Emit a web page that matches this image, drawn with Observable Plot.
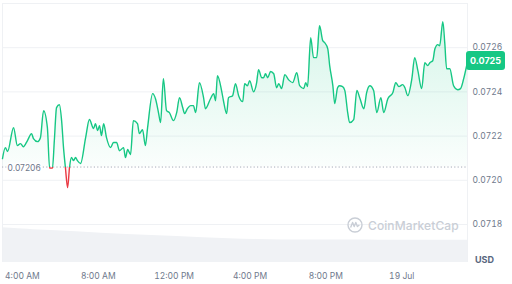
<!DOCTYPE html>
<html>
<head>
<meta charset="utf-8">
<script src="https://cdn.jsdelivr.net/npm/d3@7"></script>
<script src="https://cdn.jsdelivr.net/npm/@observablehq/plot@0.6"></script>
<style>
  html, body { margin: 0; padding: 0; background: #ffffff; }
  #wrap { position: relative; width: 512px; height: 284px; overflow: hidden; font-family: Inter, "DejaVu Sans", sans-serif; }
  #wrap svg.chart { position: absolute; left: 0; top: 0; }
  .badge { position: absolute; left: 466px; width: 39px; height: 19px; background: #16c784; color: #fff; border-radius: 3px;
           font-weight: 700; font-size: 9px; line-height: 19px; text-align: center; }
  .unit { position: absolute; left: 475px; top: 254px; font-size: 9px; font-weight: 700; color: #58667e; }
  .wm { position: absolute; left: 347px; top: 217px; display: flex; align-items: center; gap: 5px; color: #c9ced6;
        font-size: 12px; font-weight: 500; letter-spacing: 0.1px; }
</style>
</head>
<body>
<div id="wrap"></div>
<script>
// ---- data (minutes since 18 Jul 00:00 UTC, price in USD) ----
const minutes = [177,186,193,212,224,234,243,256,269,275,288,297,307,319,326,335,341,348,357,364,
  370,376,383,389,395,402,408,414,424,440,452,465,471,478,484,490,497,506,519,528,
  538,547,560,566,573,582,591,604,610,620,629,636,652,661,671,677,686,696,705,718,
  728,737,747,753,762,772,781,788,800,813,819,835,845,851,857,870,876,886,892,905,
  914,924,937,943,952,959,971,981,987,997,1003,1009,1016,1025,1035,1044,1051,1060,1070,1082,
  1095,1108,1117,1130,1136,1142,1152,1161,1171,1180,1190,1196,1206,1212,1222,1228,1237,1243,1253,1260,
  1269,1275,1288,1298,1307,1320,1329,1339,1351,1361,1374,1383,1396,1412,1421,1431,1443,1450,1459,1472,
  1481,1491,1503,1513,1522,1529,1538,1545,1554,1560,1570,1576,1582,1592,1604,1617,1626,1636,1648];
const prices = [0.072098,0.072148,0.072130,0.072238,0.072157,0.072166,0.072152,0.072180,0.072211,0.072189,
  0.072175,0.072193,0.072315,0.072238,0.072055,0.072055,0.072180,0.072329,0.072342,0.072270,
  0.072148,0.072058,0.071967,0.072058,0.072103,0.072089,0.072103,0.072089,0.072076,0.072193,
  0.072275,0.072234,0.072256,0.072225,0.072247,0.072202,0.072256,0.072193,0.072148,0.072171,
  0.072171,0.072134,0.072148,0.072103,0.072139,0.072116,0.072270,0.072256,0.072211,0.072229,
  0.072157,0.072238,0.072392,0.072369,0.072302,0.072261,0.072460,0.072315,0.072306,0.072270,
  0.072306,0.072374,0.072329,0.072302,0.072324,0.072338,0.072338,0.072306,0.072442,0.072374,
  0.072324,0.072369,0.072392,0.072360,0.072473,0.072406,0.072360,0.072302,0.072374,0.072383,
  0.072437,0.072383,0.072356,0.072437,0.072428,0.072451,0.072401,0.072442,0.072501,0.072464,
  0.072464,0.072482,0.072464,0.072492,0.072482,0.072419,0.072437,0.072415,0.072478,0.072455,
  0.072442,0.072487,0.072428,0.072415,0.072442,0.072424,0.072645,0.072555,0.072555,0.072699,
  0.072632,0.072623,0.072595,0.072519,0.072428,0.072347,0.072419,0.072428,0.072424,0.072406,
  0.072306,0.072261,0.072275,0.072406,0.072374,0.072324,0.072397,0.072428,0.072406,0.072306,
  0.072374,0.072306,0.072369,0.072397,0.072442,0.072424,0.072433,0.072419,0.072383,0.072460,
  0.072555,0.072496,0.072415,0.072532,0.072519,0.072532,0.072541,0.072595,0.072614,0.072609,
  0.072718,0.072623,0.072505,0.072505,0.072428,0.072410,0.072415,0.072460,0.072537];
const volMinutes = [177,330,490,650,810,980,1150,1350,1648];
const volumes = [35,32,29.5,27,25,23,22.5,22.5,22.5];
const openPrice = 0.07206;
const yTicks = [0.0718,0.0720,0.0722,0.0724,0.0726];
const xTickMinutes = [240,480,720,960,1200,1440];
const xTickLabels = ["4:00 AM","8:00 AM","12:00 PM","4:00 PM","8:00 PM","19 Jul"];
const currentPriceLabel = "0.0725";
const currencyLabel = "USD";
const watermarkText = "CoinMarketCap";

// ---- build ----
const t0 = Date.UTC(2024, 6, 18);
const toDate = m => new Date(t0 + m * 60000);
const series = minutes.map((m, i) => ({t: toDate(m), p: prices[i]}));
const vol = volMinutes.map((m, i) => ({t: toDate(m), v: volumes[i]}));
const yMin = 0.071628, yMax = 0.0728;
const volK = 0.0000045;
const green = "#16c784", red = "#ea3943", grid = "#eff1f4", txt = "#6f798c";
const greenArea = "#16c785", redArea = "#ea3944"; // distinct ids for post-styling

const plot = Plot.plot({
  width: 512, height: 284,
  marginLeft: 2, marginRight: 45, marginTop: 3, marginBottom: 22,
  style: {fontFamily: "Inter, sans-serif", fontSize: "8.5px", color: txt, background: "transparent", overflow: "visible"},
  x: {type: "utc", domain: [series[0].t, series[series.length - 1].t],
      ticks: xTickMinutes.map(toDate),
      tickFormat: d => xTickLabels[xTickMinutes.indexOf(Math.round((+d - t0) / 60000))],
      tickSize: 0, tickPadding: 10, label: null},
  y: {domain: [yMin, yMax], axis: "right", ticks: yTicks, tickFormat: d3.format(".4f"),
      tickSize: 0, tickPadding: 5, label: null},
  marks: [
    Plot.areaY(vol, {x: "t", y1: () => yMin, y2: d => yMin + d.v * volK, fill: "#f0f2f5", curve: "basis"}),
    Plot.ruleY(yTicks.concat([yMax]), {stroke: grid}),
    Plot.ruleX([series[0].t, series[series.length - 1].t], {stroke: grid}),
    Plot.areaY(series, {x: "t", y1: () => openPrice, y2: "p", fill: greenArea, curve: "monotone-x"}),
    Plot.areaY(series, {x: "t", y1: () => openPrice, y2: "p", fill: redArea, curve: "monotone-x"}),
    Plot.ruleY([openPrice], {stroke: "#a3abb8", strokeDasharray: "1.2,2.2"}),
    Plot.lineY(series, {x: "t", y: "p", stroke: green, strokeWidth: 1.4, curve: "monotone-x"}),
    Plot.lineY(series, {x: "t", y: "p", stroke: red, strokeWidth: 1.4, curve: "monotone-x"}),
    Plot.text([openPrice], {frameAnchor: "left", y: d => d, text: d => d3.format(".5f")(d), dx: 5, dy: 1,
      textAnchor: "start", fill: txt, stroke: "white", strokeWidth: 3})
  ]
});
plot.classList.add("chart");
const wrap = document.getElementById("wrap");
wrap.appendChild(plot);

const ys = plot.scale("y");
const yPix = v => ys.range[0] + (v - ys.domain[0]) / (ys.domain[1] - ys.domain[0]) * (ys.range[1] - ys.range[0]);
const by = yPix(openPrice);

try {
  const ns = "http://www.w3.org/2000/svg";
  const defs = document.createElementNS(ns, "defs");
  defs.innerHTML =
    `<clipPath id="clipUp"><rect x="0" y="0" width="512" height="${by}"/></clipPath>` +
    `<clipPath id="clipDown"><rect x="0" y="${by}" width="512" height="${284 - by}"/></clipPath>` +
    `<linearGradient id="gradUp" gradientUnits="userSpaceOnUse" x1="0" y1="${yPix(0.0727)}" x2="0" y2="${by}">` +
    `<stop offset="0" stop-color="${green}" stop-opacity="0.17"/><stop offset="1" stop-color="${green}" stop-opacity="0.02"/></linearGradient>` +
    `<linearGradient id="gradDown" gradientUnits="userSpaceOnUse" x1="0" y1="${by}" x2="0" y2="${yPix(0.0719)}">` +
    `<stop offset="0" stop-color="${red}" stop-opacity="0.03"/><stop offset="1" stop-color="${red}" stop-opacity="0.15"/></linearGradient>`;
  plot.insertBefore(defs, plot.firstChild);
  const groups = Array.from(plot.querySelectorAll("g"));
  const norm = s => (s || "").toLowerCase();
  for (const g of groups) {
    const f = norm(g.getAttribute("fill")), s = norm(g.getAttribute("stroke"));
    if (f === greenArea) { g.setAttribute("fill", "url(#gradUp)"); g.setAttribute("clip-path", "url(#clipUp)"); }
    else if (f === redArea) { g.setAttribute("fill", "url(#gradDown)"); g.setAttribute("clip-path", "url(#clipDown)"); }
    else if (s === green) { g.setAttribute("clip-path", "url(#clipUp)"); }
    else if (s === red) { g.setAttribute("clip-path", "url(#clipDown)"); }
  }
} catch (e) { console.error(e); }

const badge = document.createElement("div");
badge.className = "badge";
badge.textContent = currentPriceLabel;
badge.style.top = (yPix(prices[prices.length - 1]) - 10.5) + "px";
wrap.appendChild(badge);

const unit = document.createElement("div");
unit.className = "unit";
unit.textContent = currencyLabel;
wrap.appendChild(unit);

const wm = document.createElement("div");
wm.className = "wm";
wm.innerHTML = `<svg width="16" height="16" viewBox="0 0 16 16"><circle cx="8" cy="8" r="7" fill="none" stroke="#c9ced6" stroke-width="1.4"/>` +
  `<path d="M3.6 10.5 L5.6 5.5 L7.2 9.5 L8.8 5.5 L10.4 9.5 L12.4 8" fill="none" stroke="#c9ced6" stroke-width="1.4" stroke-linejoin="round"/></svg>` +
  `<span>${watermarkText}</span>`;
wrap.appendChild(wm);
</script>
</body>
</html>
